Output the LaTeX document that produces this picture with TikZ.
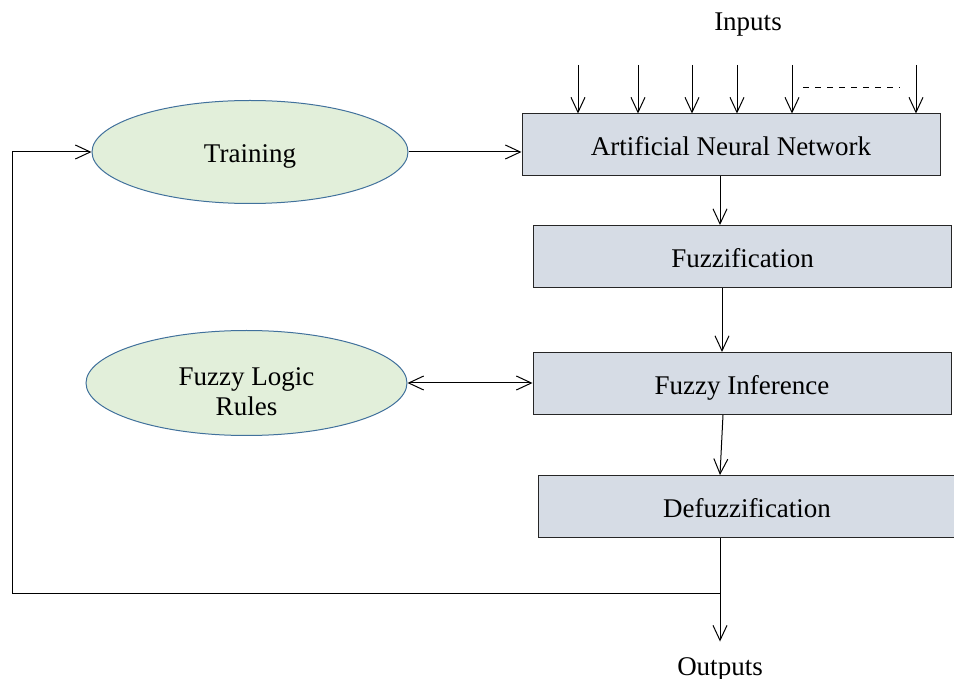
\documentclass[tikz,border=0pt]{standalone}
\usepackage{fontspec}
\setmainfont{Liberation Serif}
\usepackage{xcolor}
\usepackage{tikz}
\usetikzlibrary{shapes.geometric, arrows.meta, positioning, calc}
\definecolor{boxgray}{HTML}{D6DCE5}
\definecolor{leafgreen}{HTML}{E2EFDA}
\definecolor{rimblue}{HTML}{41719C}
\tikzset{
  txt/.style={font=\fontsize{13.5}{15}\selectfont, text=black, text height=13.6pt, text depth=2.8pt},
  stage/.style={txt, draw=black!85, fill=boxgray, line width=0.5pt,
                minimum width=209pt, minimum height=31pt, inner sep=0pt},
  blob/.style={txt, ellipse, draw=rimblue, fill=leafgreen, line width=0.5pt,
               align=center, inner sep=0pt},
  flow/.style={-{Straight Barb[length=7.5pt, width=7pt]}, line width=0.5pt},
}
\begin{document}
\begin{tikzpicture}[x=0.5pt, y=-0.5pt]
  \useasboundingbox (0,0) rectangle (954,679);
  % processing chain
  \node[stage] (ann) at (731,145) {Artificial Neural Network};
  \node[stage] (fuzz) at (742.5,256.5) {Fuzzification};
  \node[stage] (infer) at (742,383.5) {Fuzzy Inference};
  \node[stage] (defuzz) at (747,506.5) {Defuzzification};
  \node[blob, minimum width=158pt, minimum height=51.5pt] (train) at (250,152) {Training};
  \node[blob, minimum width=160.5pt, minimum height=52.5pt, text height=32.5pt, text depth=0pt] (rules) at (246.5,383) {Fuzzy Logic\\Rules};
  \node[txt] (inputs) at (748,20) {Inputs};
  \node[txt] (outputs) at (720,665) {Outputs};
  \coordinate (fb) at (720,593);
  \coordinate (fbl) at (12,152);
  % inputs
  \foreach \x [count=\i] in {578,638,692,737,792,916} {
    \coordinate (in\i) at (\x,65);
    \draw[flow] (in\i) -- (in\i |- ann.north);
  }
  \draw[dashed, line width=0.5pt] ($(in5)+(11,23)$) -- ($(in6)+(-16,23)$);
  % links
  \draw[flow] (train.east) -- (train.east -| ann.west);
  \draw[flow] (ann.south -| fb) -- (fuzz.north -| fb);
  \draw[flow] ($(fuzz.south -| fb)+(2,0)$) -- ($(infer.north -| fb)+(2,0)$);
  \draw[flow] ($(infer.south -| fb)+(3,0)$) -- (defuzz.north -| fb);
  \draw[{Straight Barb[length=7.5pt, width=7pt]}-{Straight Barb[length=7.5pt, width=7pt]}, line width=0.5pt] (rules.east) -- (rules.east -| infer.west);
  \draw[flow] (defuzz.south -| fb) -- (outputs.north);
  % feedback
  \draw[flow] (fb) -| (fbl) -- (train.west);
\end{tikzpicture}
\end{document}
